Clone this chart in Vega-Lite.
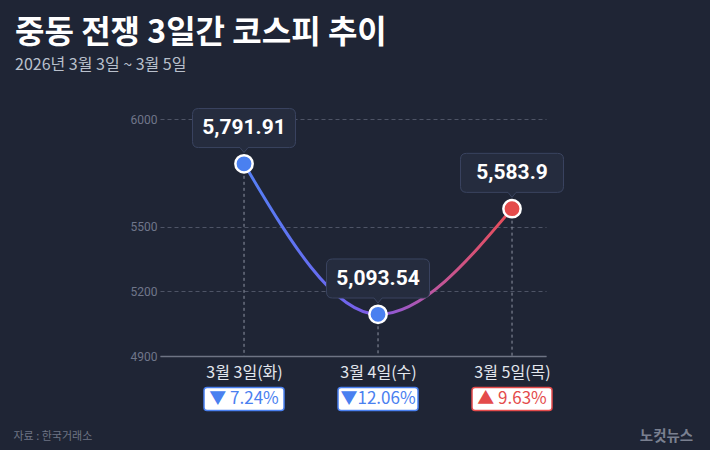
{
  "$schema": "https://vega.github.io/schema/vega-lite/v6.json",
  "width": 386,
  "height": 237,
  "autosize": "none",
  "padding": {"left": 160, "top": 119, "right": 164, "bottom": 94},
  "background": "#1f2535",
  "title": {
    "text": "중동 전쟁 3일간 코스피 추이",
    "subtitle": "2026년 3월 3일 ~ 3월 5일",
    "anchor": "start",
    "frame": "group",
    "dx": -145,
    "offset": 33,
    "font": "Noto Sans CJK KR",
    "fontSize": 32,
    "fontWeight": "bold",
    "color": "#ffffff",
    "subtitleFont": "Noto Sans CJK KR",
    "subtitleFontSize": 16,
    "subtitleColor": "#b9c0cc",
    "subtitlePadding": 7
  },
  "data": {
    "values": [
      {"date": "3월 3일(화)", "value": 5791.91, "label": "5,791.91", "change": "▼ 7.24%", "dir": "down"},
      {"date": "3월 4일(수)", "value": 5093.54, "label": "5,093.54", "change": "▼12.06%", "dir": "down"},
      {"date": "3월 5일(목)", "value": 5583.9, "label": "5,583.9", "change": "▲ 9.63%", "dir": "up"}
    ]
  },
  "encoding": {
    "x": {
      "field": "date",
      "type": "nominal",
      "sort": null,
      "scale": {"type": "point", "padding": 0.4403, "align": 0.712},
      "axis": {
        "title": "자료 : 한국거래소",
        "titleFont": "Noto Sans CJK KR",
        "titleFontSize": 11,
        "titleFontWeight": "normal",
        "titleColor": "#6e7484",
        "titleX": -147,
        "titleY": 80,
        "titleAlign": "left",
        "titleBaseline": "middle",
        "titleAnchor": null,
        "labelAngle": 0,
        "labelFont": "Noto Sans CJK KR",
        "labelFontSize": 16,
        "labelColor": "#e3e7ee",
        "labelPadding": 8,
        "ticks": false,
        "domainColor": "#6e7484",
        "domainWidth": 1.5,
        "grid": false
      }
    }
  },
  "layer": [
    {
      "mark": {"type": "rule", "stroke": "#8d93a3", "strokeWidth": 1, "strokeDash": [3, 3]},
      "encoding": {
        "y": {"field": "value", "type": "quantitative"},
        "y2": {"datum": 4900}
      }
    },
    {
      "mark": {
        "type": "line",
        "interpolate": "monotone",
        "strokeWidth": 3,
        "stroke": {
          "gradient": "linear",
          "x1": 0, "y1": 0, "x2": 1, "y2": 0,
          "stops": [
            {"offset": 0, "color": "#5580f5"},
            {"offset": 0.35, "color": "#6a68ef"},
            {"offset": 0.5, "color": "#8559e2"},
            {"offset": 0.72, "color": "#c0569a"},
            {"offset": 1, "color": "#ea4d55"}
          ]
        }
      },
      "encoding": {
        "y": {
          "field": "value",
          "type": "quantitative",
          "scale": {"domain": [4900, 6000], "nice": false, "zero": false},
          "axis": {
            "values": [4900, 5200, 5500, 6000],
            "format": "d",
            "title": "노컷뉴스",
            "titleAngle": 0,
            "titleFont": "Noto Sans CJK KR",
            "titleFontSize": 14.5,
            "titleFontWeight": "bold",
            "titleColor": "#7a8090",
            "titleX": 506,
            "titleY": 317,
            "titleAlign": "center",
            "titleBaseline": "middle",
            "titleAnchor": null,
            "labelFont": "Roboto",
            "labelFontSize": 12,
            "labelColor": "#70768a",
            "labelPadding": 3,
            "ticks": false,
            "domain": false,
            "grid": true,
            "gridColor": "#4e5466",
            "gridWidth": 1,
            "gridDash": [4, 3]
          }
        }
      }
    },
    {
      "mark": {"type": "point", "filled": true, "shape": "circle", "size": 300, "stroke": "#ffffff", "strokeWidth": 2.5, "opacity": 1},
      "encoding": {
        "y": {"field": "value", "type": "quantitative"},
        "fill": {"field": "dir", "type": "nominal", "scale": {"domain": ["down", "up"], "range": ["#4a80f0", "#e44b4b"]}, "legend": null}
      }
    },
    {
      "mark": {
        "type": "point",
        "filled": true,
        "shape": "M -0.883 -0.379 L 0.883 -0.379 Q 1 -0.379 1 -0.262 L 1 0.262 Q 1 0.379 0.883 0.379 L 0.078 0.379 L 0 0.476 L -0.078 0.379 L -0.883 0.379 Q -1 0.379 -1 0.262 L -1 -0.262 Q -1 -0.379 -0.883 -0.379 Z",
        "size": 10609,
        "fill": "#252c3e",
        "stroke": "#3a4460",
        "strokeWidth": 1,
        "opacity": 1,
        "yOffset": -35.8
      },
      "encoding": {
        "y": {"field": "value", "type": "quantitative"}
      }
    },
    {
      "mark": {"type": "text", "font": "Roboto", "fontSize": 21, "fontWeight": "bold", "fill": "#ffffff", "baseline": "middle", "align": "center", "yOffset": -35.8},
      "encoding": {
        "y": {"field": "value", "type": "quantitative"},
        "text": {"field": "label"}
      }
    },
    {
      "mark": {
        "type": "point",
        "filled": true,
        "shape": "M -0.925 -0.2875 L 0.925 -0.2875 Q 1 -0.2875 1 -0.2125 L 1 0.2125 Q 1 0.2875 0.925 0.2875 L -0.925 0.2875 Q -1 0.2875 -1 0.2125 L -1 -0.2125 Q -1 -0.2875 -0.925 -0.2875 Z",
        "size": 6400,
        "fill": "#ffffff",
        "strokeWidth": 1.5,
        "opacity": 1,
        "yOffset": 43
      },
      "encoding": {
        "y": {"datum": 4900},
        "stroke": {"field": "dir", "type": "nominal", "scale": {"domain": ["down", "up"], "range": ["#4a80f0", "#e44b4b"]}, "legend": null}
      }
    },
    {
      "mark": {"type": "text", "font": "Noto Sans CJK KR", "fontSize": 17, "baseline": "middle", "align": "center", "yOffset": 43},
      "encoding": {
        "y": {"datum": 4900},
        "text": {"field": "change"},
        "fill": {"field": "dir", "type": "nominal", "scale": {"domain": ["down", "up"], "range": ["#4a80f0", "#e44b4b"]}, "legend": null}
      }
    }
  ],
  "config": {
    "view": {"stroke": null}
  }
}
